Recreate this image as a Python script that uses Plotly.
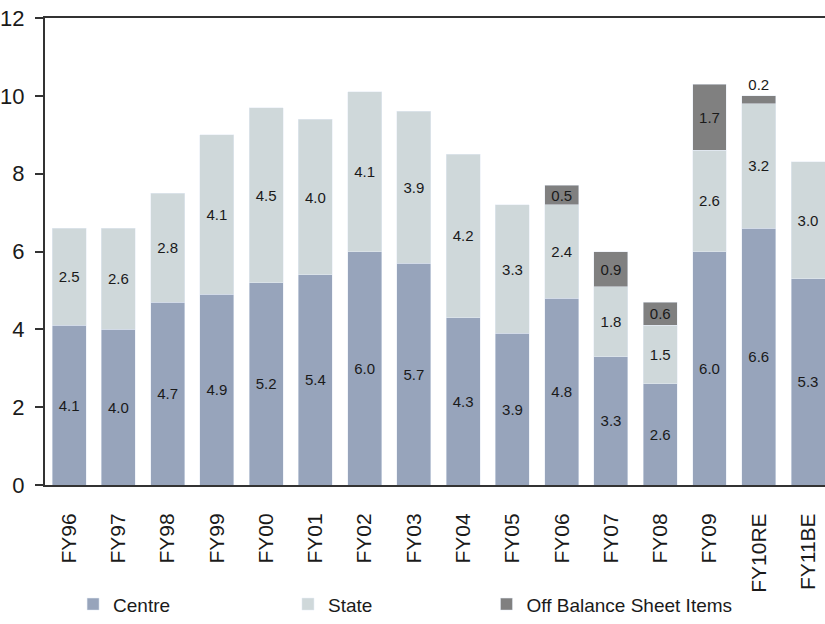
import plotly.graph_objects as go

categories = ["FY96", "FY97", "FY98", "FY99", "FY00", "FY01", "FY02", "FY03",
              "FY04", "FY05", "FY06", "FY07", "FY08", "FY09", "FY10RE", "FY11BE"]
centre = [4.1, 4.0, 4.7, 4.9, 5.2, 5.4, 6.0, 5.7, 4.3, 3.9, 4.8, 3.3, 2.6, 6.0, 6.6, 5.3]
state = [2.5, 2.6, 2.8, 4.1, 4.5, 4.0, 4.1, 3.9, 4.2, 3.3, 2.4, 1.8, 1.5, 2.6, 3.2, 3.0]
off_bs = [None, None, None, None, None, None, None, None, None, None, 0.5, 0.9, 0.6, 1.7, 0.2, None]
y_ticks = [0, 2, 4, 6, 8, 10, 12]

FONT = "Liberation Sans, Arial, sans-serif"
LBL = dict(family=FONT, size=15, color="#1a1a1a")

def fmt(v):
    return "" if v is None else f"{v:.1f}"

fig = go.Figure()
fig.add_trace(go.Bar(name="Centre", x=categories, y=centre, marker_color="#97a4bb",
                     text=[fmt(v) for v in centre], textposition="inside",
                     insidetextanchor="middle", textfont=LBL, constraintext="none",
                     width=0.69, legend="legend"))
fig.add_trace(go.Bar(name="State", x=categories, y=state, marker_color="#cfd8da",
                     text=[fmt(v) for v in state], textposition="inside",
                     insidetextanchor="middle", textfont=LBL, constraintext="none",
                     width=0.69, legend="legend2"))
off_pos = ["outside" if (v is not None and v < 0.4) else "inside" for v in off_bs]
fig.add_trace(go.Bar(name="Off Balance Sheet Items", x=categories, y=off_bs,
                     marker_color="#808080",
                     text=[fmt(v) for v in off_bs], textposition=off_pos,
                     insidetextanchor="middle", textfont=LBL, constraintext="none",
                     cliponaxis=False, width=0.69, legend="legend3"))

leg_common = dict(orientation="h", y=-0.296, yanchor="bottom", xanchor="left",
                  font=dict(family=FONT, size=19, color="#1a1a1a"),
                  bgcolor="rgba(0,0,0,0)")

fig.update_layout(
    barmode="stack",
    width=825, height=624,
    margin=dict(l=45, r=0, t=18, b=139),
    plot_bgcolor="white", paper_bgcolor="white",
    showlegend=True,
    legend=dict(x=0.036, **leg_common),
    legend2=dict(x=0.3115, **leg_common),
    legend3=dict(x=0.566, **leg_common),
    xaxis=dict(range=[-0.49, 15.345], tickangle=-90, automargin=False,
               tickfont=dict(family=FONT, size=21, color="#1a1a1a"),
               ticklabelstandoff=18,
               showline=True, mirror=True, linecolor="#333333", linewidth=2,
               ticks="", showgrid=False),
    yaxis=dict(range=[0, 12], tickvals=y_ticks, automargin=False,
               tickfont=dict(family=FONT, size=22, color="#1a1a1a"),
               ticklabelstandoff=6,
               showline=True, linecolor="#333333", linewidth=2,
               ticks="outside", ticklen=8, tickcolor="#333333", tickwidth=1.5,
               showgrid=False, zeroline=False),
)

fig.write_html("out.html", config={"displayModeBar": False},
               post_script="document.body.style.margin='0';document.body.style.overflow='hidden';")
